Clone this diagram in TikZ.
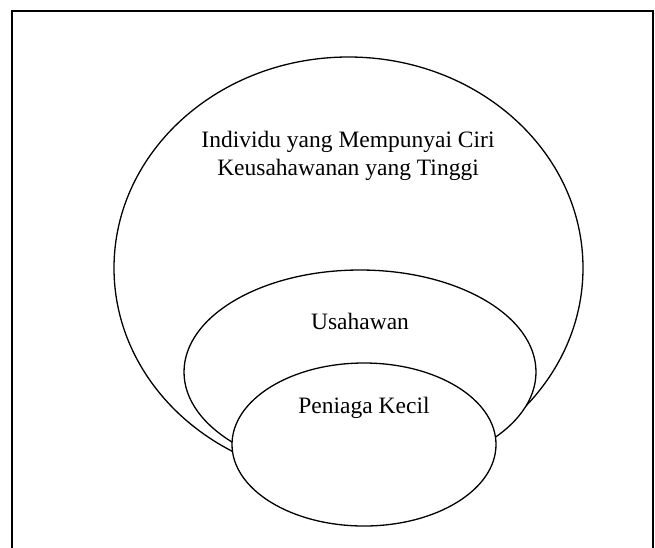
\documentclass[tikz,border=0pt]{standalone}
\usepackage{fontspec}
\setmainfont{Liberation Serif}
\usetikzlibrary{shapes.geometric}
\tikzset{
  ring/.style={draw, ellipse, fill=white, line width=1.3pt, inner sep=0pt},
  lbl/.style={font=\fontsize{23.5}{28}\selectfont, align=center, inner sep=0pt}
}
\begin{document}
\begin{tikzpicture}[x=1pt,y=-1pt]
\useasboundingbox (0,0) rectangle (655,547);
% Frame
\draw[line width=2pt] (12,560) -- (12,11) -- (653,11) -- (653,560);

% Ellipses, back to front
\node[ring, minimum width=469pt, minimum height=422pt] (ciri) at (348.5,268) {};
\node[ring, minimum width=352pt, minimum height=204pt] (usahawan) at (360,372) {};
\node[ring, minimum width=264pt, minimum height=163pt] (peniaga) at (364,444.5) {};

% Labels
\node[lbl] (ciriText) at (348,156) {Individu yang Mempunyai Ciri\\Keusahawanan yang Tinggi};
\node[lbl] (usahawanText) at (360,321) {Usahawan};
\node[lbl] (peniagaText) at (364,408) {Peniaga Kecil};
\end{tikzpicture}
\end{document}
